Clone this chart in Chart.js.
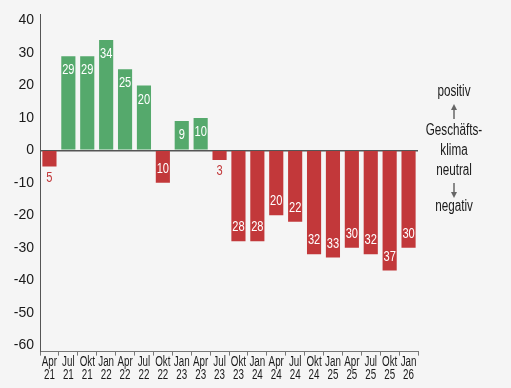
<!DOCTYPE html>
<html>
<head>
<meta charset="utf-8">
<script src="https://cdn.jsdelivr.net/npm/chart.js@4"></script>
<style>
  html, body { margin: 0; padding: 0; background: #f5f5f5; }
  #wrap { width: 511px; height: 388px; }
</style>
</head>
<body>
<div id="wrap"><canvas id="klima"></canvas></div>
<script>
const quartale = [
  ["Apr", "21"], ["Jul", "21"], ["Okt", "21"], ["Jan", "22"], ["Apr", "22"],
  ["Jul", "22"], ["Okt", "22"], ["Jan", "23"], ["Apr", "23"], ["Jul", "23"],
  ["Okt", "23"], ["Jan", "24"], ["Apr", "24"], ["Jul", "24"], ["Okt", "24"],
  ["Jan", "25"], ["Apr", "25"], ["Jul", "25"], ["Okt", "25"], ["Jan", "26"]
];
const geschaeftsklima = [-5, 29, 29, 34, 25, 20, -10, 9, 10, -3, -28, -28, -20, -22, -32, -33, -30, -32, -37, -30];
const yTicks = [-60, -50, -40, -30, -20, -10, 0, 10, 20, 30, 40];
const hinweis = ["positiv", "Geschäfts-", "klima", "neutral", "negativ"];

const gruen = "#55a96c";
const rot = "#c2383a";
const schrift = "'Liberation Sans', Arial, sans-serif";

// schmale Schrift nachbauen: horizontal stauchen
function schmalText(c, text, x, y, sx) {
  c.save();
  c.translate(x, y);
  c.scale(sx, 1);
  c.fillText(text, 0, 0);
  c.restore();
}

// Werte an die Balken schreiben
const wertLabels = {
  id: "wertLabels",
  afterDatasetsDraw(chart) {
    const c = chart.ctx;
    const meta = chart.getDatasetMeta(0);
    c.save();
    c.font = "15px " + schrift;
    c.textAlign = "center";
    c.textBaseline = "middle";
    meta.data.forEach((bar, i) => {
      const v = geschaeftsklima[i];
      const pos = v >= 0;
      let y;
      if (Math.abs(v) >= 9) {
        c.fillStyle = "#ffffff";
        y = pos ? bar.y + 14 : bar.y - 14;
      } else {
        c.fillStyle = rot;
        y = pos ? bar.y - 11 : bar.y + 11;
      }
      schmalText(c, String(Math.abs(v)), bar.x, y, 0.74);
    });
    c.restore();
  }
};

// x-Beschriftung (zweizeilig, schmal)
const xLabels = {
  id: "xLabels",
  afterDraw(chart) {
    const c = chart.ctx;
    const sx = chart.scales.x;
    c.save();
    c.font = "14px " + schrift;
    c.fillStyle = "#1a1a1a";
    c.textAlign = "center";
    c.textBaseline = "middle";
    quartale.forEach((q, i) => {
      const x = sx.getPixelForTick(i);
      schmalText(c, q[0], x, sx.top + 11, 0.7);
      schmalText(c, q[1], x, sx.top + 24, 0.7);
    });
    c.restore();
  }
};

// rechte Legende mit Pfeilen
const seitenText = {
  id: "seitenText",
  afterDraw(chart) {
    const c = chart.ctx;
    const x = 454;
    c.save();
    c.font = "16px " + schrift;
    c.fillStyle = "#1a1a1a";
    c.textAlign = "center";
    c.textBaseline = "middle";
    schmalText(c, hinweis[0], x, 92, 0.73);
    schmalText(c, hinweis[1], x, 131, 0.73);
    schmalText(c, hinweis[2], x, 151, 0.73);
    schmalText(c, hinweis[3], x, 171, 0.73);
    schmalText(c, hinweis[4], x, 207, 0.73);

    c.strokeStyle = "#666";
    c.fillStyle = "#666";
    c.lineWidth = 1.5;
    // Pfeil hoch
    c.beginPath(); c.moveTo(x, 119); c.lineTo(x, 109); c.stroke();
    c.beginPath(); c.moveTo(x, 104); c.lineTo(x - 3, 110); c.lineTo(x + 3, 110); c.closePath(); c.fill();
    // Pfeil runter
    c.beginPath(); c.moveTo(x, 183); c.lineTo(x, 193); c.stroke();
    c.beginPath(); c.moveTo(x, 198); c.lineTo(x - 3, 192); c.lineTo(x + 3, 192); c.closePath(); c.fill();
    c.restore();
  }
};

const hintergrund = {
  id: "hintergrund",
  beforeDraw(chart) {
    const c = chart.ctx;
    c.save();
    c.fillStyle = "#f5f5f5";
    c.fillRect(0, 0, chart.width, chart.height);
    c.restore();
  }
};

new Chart(document.getElementById("klima"), {
  type: "bar",
  data: {
    labels: quartale,
    datasets: [{
      data: geschaeftsklima,
      backgroundColor: geschaeftsklima.map(v => v >= 0 ? gruen : rot),
      barPercentage: 0.85,
      categoryPercentage: 0.88
    }]
  },
  options: {
    responsive: true,
    maintainAspectRatio: false,
    animation: false,
    layout: { padding: { top: 14, right: 93, bottom: 4, left: 0 } },
    plugins: {
      legend: { display: false },
      tooltip: { enabled: false }
    },
    scales: {
      x: {
        grid: {
          display: true,
          drawOnChartArea: false,
          drawTicks: true,
          tickLength: 4,
          color: "#777",
          offset: true
        },
        border: { display: true, color: "#777", width: 1 },
        ticks: {
          color: "rgba(0,0,0,0)",
          font: { family: schrift, size: 12, lineHeight: 1.1 },
          padding: 1,
          maxRotation: 0,
          autoSkip: false
        }
      },
      y: {
        min: -62,
        max: 42,
        afterBuildTicks(scale) {
          scale.ticks = yTicks.map(v => ({ value: v }));
        },
        afterFit(scale) {
          scale.width = 40;
          scale.paddingTop = 0;
          scale.paddingBottom = 0;
        },
        grid: {
          drawTicks: false,
          color: ctx => ctx.tick && ctx.tick.value === 0 ? "#555" : "rgba(0,0,0,0)",
          lineWidth: ctx => ctx.tick && ctx.tick.value === 0 ? 1.5 : 0
        },
        border: { display: true, color: "#555", width: 1 },
        ticks: {
          color: "#1a1a1a",
          font: { family: schrift, size: 14 },
          padding: 6
        }
      }
    }
  },
  plugins: [hintergrund, wertLabels, xLabels, seitenText]
});
</script>
</body>
</html>
